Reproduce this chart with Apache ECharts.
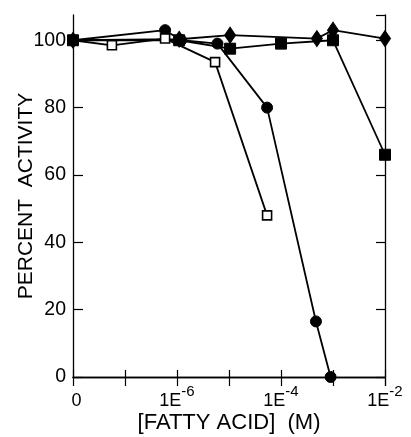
<!DOCTYPE html>
<html><head><meta charset="utf-8">
<script src="https://cdn.jsdelivr.net/npm/echarts@6/dist/echarts.min.js"></script>
<style>html,body{margin:0;padding:0;background:#fff}#c{width:411px;height:437px}</style>
</head><body><div id="c"></div>
<script>
// x = concentration (M); the leftmost point (1e-8) is the "0" concentration
const circleX = [1e-8, 5.9e-7, 1.2e-6, 6e-6, 5.4e-5, 4.7e-4, 9e-4];
const circleY = [100, 103, 100, 99, 80, 16.5, 0];
const openSqX = [1e-8, 5.6e-8, 5.9e-7, 5.4e-6, 5.4e-5];
const openSqY = [100, 98.5, 100.5, 93.5, 48];
const fillSqX = [1e-8, 1.1e-6, 1.05e-5, 1e-4, 1e-3, 1e-2];
const fillSqY = [100, 100, 97.5, 99, 100, 66];
const diamondX = [1e-8, 1.1e-6, 1.05e-5, 4.9e-4, 1e-3, 1e-2];
const diamondY = [100, 100.3, 101.5, 100.5, 103, 100.5];
const xTickLabels = {'-8':'0','-6':'1E-6','-4':'1E-4','-2':'1E-2'};
const yTicks = [0, 20, 40, 60, 80, 100];

const FONT = 'Liberation Sans, Arial, sans-serif';
function pairs(xs, ys){ return xs.map((x,i)=>[x, ys[i]]); }
function xFmt(v){
  const e = Math.round(Math.log10(v));
  const t = xTickLabels[String(e)];
  if (t === undefined) return '';
  if (t === '0') return '{z|0}';
  const m = t.match(/^(1E)(-\d+)$/);
  return '{b|' + m[1] + '}{s|' + m[2] + '}';
}
const axisLine = {show:true, lineStyle:{color:'#000', width:1.3}};
const chart = echarts.init(document.getElementById('c'), null, {renderer:'canvas'});
const base = {type:'line', lineStyle:{color:'#000', width:1.8}, itemStyle:{color:'#000', borderColor:'#000'}, z:3};
chart.setOption({
  animation:false,
  grid:{left:73, right:26, top:15, bottom:60, containLabel:false, outerBoundsMode:'none'},
  xAxis:[{
    type:'log', logBase:10, min:1e-8, max:1e-2, position:'bottom',
    axisLine, splitLine:{show:false},
    axisTick:{show:true, inside:true, length:7, lineStyle:{color:'#000', width:1.2}},
    axisLabel:{formatter:xFmt, color:'#000', fontFamily:FONT, fontSize:18, margin:7,
      rich:{
        b:{fontSize:18, lineHeight:28, fontFamily:FONT, color:'#000', verticalAlign:'bottom', padding:[0,0,2,0]},
        z:{fontSize:18, lineHeight:28, fontFamily:FONT, color:'#000', verticalAlign:'bottom', padding:[0,0,2,7]},
        s:{fontSize:15, lineHeight:15, fontFamily:FONT, color:'#000', verticalAlign:'top'}
      }},
    name:'[FATTY ACID]  (M)', nameLocation:'middle', nameGap:35, nameMoveOverlap:false,
    nameTextStyle:{color:'#000', fontFamily:FONT, fontSize:22, letterSpacing:1.3}
  },{
    type:'log', logBase:10, min:1e-8, max:1e-2, position:'top',
    axisLine, splitLine:{show:false},
    axisTick:{show:true, inside:true, length:9, lineStyle:{color:'#000', width:1.2}},
    axisLabel:{show:false}
  }],
  yAxis:[{
    type:'value', min:0, max:107.5, interval:20, position:'left',
    axisLine, splitLine:{show:false},
    axisTick:{show:true, inside:true, length:10, lineStyle:{color:'#000', width:1.2}},
    axisLabel:{color:'#000', fontFamily:FONT, fontSize:19.5, margin:7, showMaxLabel:false,
      formatter:v=> yTicks.includes(v) ? String(v) : ''},
    name:'PERCENT  ACTIVITY', nameLocation:'middle', nameGap:36, nameMoveOverlap:false,
    nameTextStyle:{color:'#000', fontFamily:FONT, fontSize:21}
  },{
    type:'value', min:0, max:107.5, interval:20, position:'right',
    axisLine, splitLine:{show:false},
    axisTick:{show:true, inside:true, length:9, lineStyle:{color:'#000', width:1.2}},
    axisLabel:{show:false}
  }],
  series:[
    Object.assign({}, base, {name:'circle', data:pairs(circleX, circleY), symbol:'circle', symbolSize:11}),
    Object.assign({}, base, {name:'openSquare', data:pairs(openSqX, openSqY), symbol:'rect', symbolSize:9,
      itemStyle:{color:'#fff', borderColor:'#000', borderWidth:1.6}}),
    Object.assign({}, base, {name:'filledSquare', data:pairs(fillSqX, fillSqY), symbol:'rect', symbolSize:11}),
    Object.assign({}, base, {name:'diamond', data:pairs(diamondX, diamondY), symbol:'diamond', symbolSize:[11,16]})
  ]
});
</script>
</body></html>
